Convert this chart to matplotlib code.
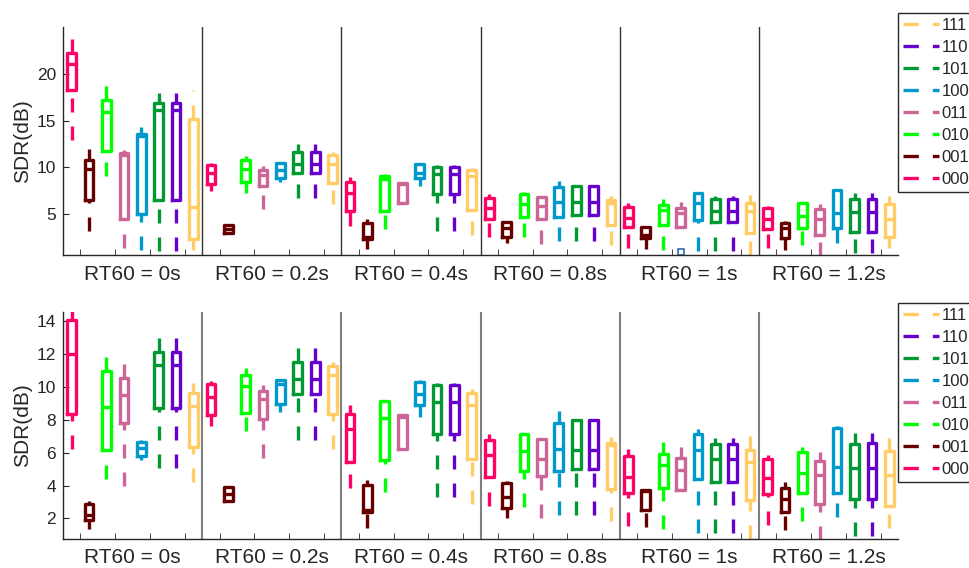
import matplotlib
matplotlib.use("Agg")
import matplotlib.pyplot as plt
from matplotlib.lines import Line2D

plt.rcParams['font.family'] = ['Liberation Sans', 'DejaVu Sans']

SERIES = ["000", "001", "010", "011", "100", "101", "110", "111"]
COLORS = ["#FF0066", "#660000", "#00FF00", "#CC6699", "#0099CC", "#009933", "#6600CC", "#FFCC66"]
GROUPS = ["RT60 = 0s", "RT60 = 0.2s", "RT60 = 0.4s", "RT60 = 0.8s", "RT60 = 1s", "RT60 = 1.2s"]

# ---------- top panel (rows: series 000..111, cols: RT60 groups) ----------
TOP_HI = [
    [24.9, 10.45, 8.96, 7.18, 6.25, 5.9],
    [12.0, 3.86, 4.45, 4.29, 3.75, 4.29],
    [19.6, 11.2, 9.3, 7.43, 6.64, 6.36],
    [11.9, 10.2, 8.3, 6.9, 6.29, 6.07],
    [14.3, 10.5, 10.5, 8.57, 7.43, 7.6],
    [18.0, 12.5, 10.25, 8.1, 6.9, 7.25],
    [18.0, 12.5, 10.25, 8.1, 6.9, 7.25],
    [18.3, 11.6, 9.93, 6.96, 7.07, 6.9],
]
TOP_Q3 = [
    [22.25, 10.3, 8.43, 6.7, 5.75, 5.64],
    [10.8, 3.86, 4.1, 4.18, 3.68, 4.04],
    [17.2, 10.75, 9.14, 7.18, 6.0, 6.18],
    [11.5, 9.75, 8.3, 6.82, 5.71, 5.54],
    [13.6, 10.45, 10.35, 7.9, 7.25, 7.54],
    [16.9, 11.6, 10.1, 8.04, 6.6, 6.64],
    [16.9, 11.6, 10.1, 8.04, 6.6, 6.64],
    [15.2, 11.35, 9.7, 6.54, 6.25, 6.07],
]
TOP_MED = [
    [21.07, 9.4, 7.3, 5.64, 4.57, 4.46],
    [9.8, 3.45, 2.6, 3.5, 2.8, 3.5],
    [15.9, 9.86, 8.75, 6.1, 5.46, 4.82],
    [11.3, 9.2, 8.25, 5.9, 5.1, 4.46],
    [13.4, 9.75, 9.45, 6.36, 6.25, 5.1],
    [16.1, 10.4, 9.3, 6.36, 5.3, 5.29],
    [16.1, 10.4, 9.3, 6.36, 5.36, 5.29],
    [5.8, 10.4, 9.14, 6.25, 5.3, 4.46],
]
TOP_Q1 = [
    [18.3, 8.25, 5.3, 4.46, 3.6, 3.4],
    [6.5, 3.04, 2.36, 2.53, 2.43, 2.43],
    [11.8, 8.4, 5.4, 4.75, 3.86, 3.5],
    [4.5, 8.07, 6.2, 4.46, 3.68, 2.79],
    [5.0, 8.85, 8.9, 4.75, 4.4, 3.5],
    [6.5, 9.45, 7.14, 4.93, 4.2, 3.07],
    [6.5, 9.45, 7.14, 4.93, 4.2, 3.07],
    [2.4, 8.3, 5.46, 3.86, 2.96, 2.6],
]
TOP_LO = [
    [12.9, 7.5, 3.75, 2.6, 1.36, 1.43],
    [3.25, 3.04, 1.25, 1.9, 1.25, 1.18],
    [9.1, 7.25, 3.4, 2.6, 1.18, 1.71],
    [1.35, 5.6, 6.2, 1.8, 3.68, 0.54],
    [1.2, 8.4, 8.07, 2.14, 1.07, 1.96],
    [1.1, 6.7, 3.2, 2.14, 1.07, 0.82],
    [1.1, 6.7, 3.2, 2.14, 1.07, 0.82],
    [1.2, 6.1, 2.8, 1.7, 0.64, 1.36],
]
# outlier seen in top panel (series index, group index, value)
TOP_FLIERS = [(3, 4, 0.96)]

# ---------- bottom panel ----------
BOT_HI = [
    [14.8, 10.34, 8.88, 7.16, 6.25, 5.85],
    [3.07, 3.92, 4.37, 4.27, 3.76, 4.23],
    [12.06, 11.15, 9.23, 7.2, 6.66, 6.35],
    [12.06, 10.14, 8.28, 6.86, 6.35, 6.05],
    [6.76, 10.46, 10.46, 8.52, 7.47, 7.63],
    [13.38, 12.47, 10.24, 8.03, 6.9, 7.22],
    [13.38, 12.47, 10.24, 8.03, 6.9, 7.22],
    [10.24, 11.5, 9.9, 6.96, 7.02, 6.9],
]
BOT_Q3 = [
    [14.09, 10.2, 8.38, 6.76, 5.8, 5.64],
    [2.85, 3.92, 4.06, 4.17, 3.72, 3.88],
    [10.97, 10.74, 9.15, 7.16, 5.95, 6.05],
    [10.54, 9.73, 8.28, 6.82, 5.68, 5.48],
    [6.66, 10.4, 10.3, 7.83, 7.16, 7.51],
    [12.12, 11.51, 10.14, 8.01, 6.55, 6.55],
    [12.12, 11.51, 10.14, 8.01, 6.55, 6.6],
    [9.65, 11.27, 9.65, 6.62, 6.19, 6.09],
]
BOT_MED = [
    [12.02, 9.39, 7.43, 5.89, 4.53, 4.47],
    [2.24, 3.46, 2.5, 3.32, 3.65, 3.21],
    [8.78, 10.04, 8.13, 6.11, 5.24, 4.79],
    [9.53, 9.25, 8.2, 5.6, 4.98, 4.63],
    [6.29, 10.16, 9.59, 6.21, 6.19, 5.14],
    [11.35, 10.5, 9.09, 6.15, 5.6, 5.08],
    [11.35, 10.5, 9.09, 6.18, 5.6, 5.08],
    [8.84, 10.74, 8.88, 6.45, 5.44, 4.63],
]
BOT_Q1 = [
    [8.34, 8.28, 5.44, 4.53, 3.52, 3.46],
    [1.9, 3.05, 2.4, 2.65, 2.51, 2.4],
    [6.15, 8.44, 5.54, 4.89, 3.86, 3.52],
    [7.83, 8.07, 6.21, 4.59, 3.76, 2.91],
    [5.8, 8.98, 8.88, 4.89, 4.43, 3.58],
    [8.72, 9.59, 7.16, 5.04, 4.23, 3.17],
    [8.72, 9.59, 7.16, 5.04, 4.23, 3.21],
    [6.35, 8.38, 5.6, 3.82, 3.11, 2.75],
]
BOT_LO = [
    [6.25, 7.63, 3.86, 2.75, 1.55, 1.6],
    [1.35, 3.05, 1.39, 2.0, 1.45, 1.29],
    [4.39, 7.3, 3.62, 2.71, 1.35, 1.84],
    [3.96, 5.7, 6.21, 2.0, 3.76, 0.68],
    [5.54, 8.48, 8.17, 2.24, 1.13, 2.1],
    [5.1, 6.8, 3.32, 2.24, 1.13, 0.93],
    [5.1, 6.8, 3.32, 2.24, 1.13, 0.93],
    [4.23, 6.2, 2.85, 1.84, 0.72, 1.43],
]
BOT_FLIERS = []

TOP_YTICKS = [5, 10, 15, 20]
BOT_YTICKS = [2, 4, 6, 8, 10, 12, 14]

LW = 2.4
DASH = (0, (4.2, 4.2))
TXT = "#262626"

fig = plt.figure(figsize=(9.69, 5.68), dpi=100)
ax_top = fig.add_axes([63 / 969, 1 - 255 / 568, 835 / 969, 228 / 568])
ax_bot = fig.add_axes([63 / 969, 1 - 538.5 / 568, 835 / 969, 227 / 568])

nG = len(GROUPS)
nS = len(SERIES)


def draw_panel(ax, HI, Q3, MED, Q1, LO, fliers, ylim, yticks, sepcolor, seplw):
    for s in range(nS):
        stats = []
        pos = []
        for g in range(nG):
            fl = [v for (si, gi, v) in fliers if si == s and gi == g]
            stats.append(dict(med=MED[s][g], q1=Q1[s][g], q3=Q3[s][g],
                              whislo=LO[s][g], whishi=HI[s][g], fliers=fl))
            pos.append(g * nS + s + 0.5)
        c = COLORS[s]
        res = ax.bxp(stats, positions=pos, widths=0.5, showcaps=False,
                     boxprops=dict(color=c, linewidth=LW, solid_joinstyle='round'),
                     medianprops=dict(color=c, linewidth=LW),
                     whiskerprops=dict(color=c, linewidth=LW, linestyle=DASH,
                                       dash_capstyle='butt'),
                     flierprops=dict(marker='s', markersize=5, markerfacecolor='none',
                                     markeredgecolor='#2a6db5', markeredgewidth=1.2),
                     manage_ticks=False)
        # dashes of the lower whisker start at the whisker end, as in the source
        for i, w in enumerate(res['whiskers']):
            if i % 2 == 0:
                w.set_ydata(list(w.get_ydata())[::-1])
    for g in range(1, nG):
        ax.axvline(g * nS, color=sepcolor, lw=seplw, zorder=0)
    ax.set_xlim(0, nG * nS)
    ax.set_ylim(*ylim)
    ax.set_yticks(yticks)
    ax.set_xticks([g * nS + nS / 2 for g in range(nG)])
    ax.set_xticklabels(GROUPS, fontsize=15, color=TXT)
    ax.set_xticks([g * nS + k for g in range(nG) for k in (1, 3, 5, 7)], minor=True)
    ax.tick_params(axis='x', which='major', length=0, pad=7)
    ax.tick_params(axis='x', which='minor', direction='in', length=4, color=TXT)
    ax.tick_params(axis='y', direction='in', length=4, labelsize=12.5, labelcolor=TXT,
                   color=TXT, pad=5)
    for sp in ('top', 'right'):
        ax.spines[sp].set_visible(False)
    for sp in ('left', 'bottom'):
        ax.spines[sp].set_color(TXT)
        ax.spines[sp].set_linewidth(1.0)
    ax.set_ylabel("SDR(dB)", fontsize=15, color=TXT, labelpad=3)


draw_panel(ax_top, TOP_HI, TOP_Q3, TOP_MED, TOP_Q1, TOP_LO, TOP_FLIERS,
           (0.65, 25.0), TOP_YTICKS, "#333333", 1.0)
draw_panel(ax_bot, BOT_HI, BOT_Q3, BOT_MED, BOT_Q1, BOT_LO, BOT_FLIERS,
           (0.78, 14.6), BOT_YTICKS, "#808080", 1.5)

handles = [Line2D([0], [0], color=COLORS[i], lw=LW, linestyle=(0, (4.6, 4.2)),
                  dash_capstyle='butt') for i in range(nS)][::-1]
labels = SERIES[::-1]
for top_px in (13, 302.5):
    leg = fig.legend(handles, labels, loc='upper left',
                     bbox_to_anchor=(897.7 / 969, 1 - top_px / 568),
                     bbox_transform=fig.transFigure, borderaxespad=0,
                     fontsize=12, frameon=True, fancybox=False, framealpha=1,
                     edgecolor='#262626', handlelength=2.2, handletextpad=0.12,
                     labelspacing=0.42, borderpad=0.3)
    leg.get_frame().set_linewidth(1.0)
    for t in leg.get_texts():
        t.set_color(TXT)

fig.savefig("out.png", dpi=100)
